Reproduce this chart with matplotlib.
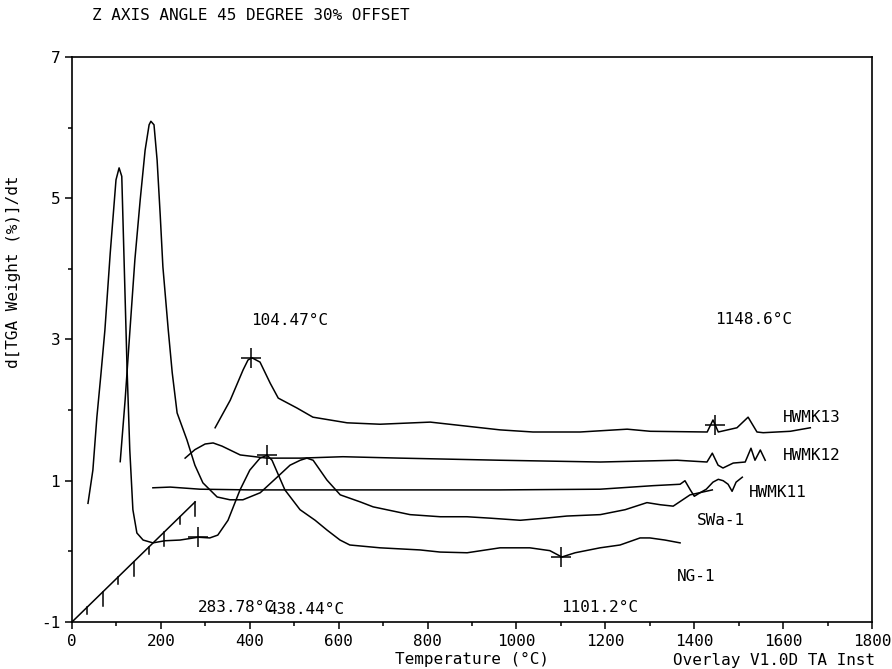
import numpy as np
import matplotlib
matplotlib.use("Agg")
import matplotlib.pyplot as plt

# DTG curves, own (un-offset) coordinates: temperature (C), d[weight %]/dt
ng1_t = [36, 47, 56, 65, 74, 86, 99, 106, 112, 124, 130, 137, 146, 160, 182, 209, 243, 284,
         310, 328, 351, 378, 400, 423, 439, 450, 479, 513, 547, 574, 603, 625, 693, 783, 828,
         889, 963, 1030, 1075, 1102, 1132, 1188, 1233, 1278, 1300, 1334, 1368]
ng1_y = [0.68, 1.15, 1.90, 2.50, 3.13, 4.22, 5.26, 5.43, 5.31, 2.57, 1.44, 0.59, 0.26, 0.16,
         0.12, 0.15, 0.16, 0.20, 0.19, 0.23, 0.44, 0.87, 1.15, 1.32, 1.36, 1.29, 0.87, 0.59,
         0.44, 0.30, 0.16, 0.09, 0.05, 0.02, -0.01, -0.02, 0.05, 0.05, 0.01, -0.08, -0.02, 0.05,
         0.09, 0.19, 0.19, 0.16, 0.12]

swa1_t = [34, 45, 56, 67, 79, 90, 99, 103, 110, 117, 124, 130, 142, 151, 162, 184, 202, 220,
          252, 281, 310, 349, 387, 416, 439, 454, 468, 499, 529, 574, 603, 686, 754, 814, 866,
          934, 990, 1039, 1114, 1170, 1219, 1249, 1278, 1316, 1366]
swa1_y = [0.80, 1.67, 2.67, 3.66, 4.51, 5.21, 5.57, 5.62, 5.57, 5.07, 4.29, 3.56, 2.67, 2.06,
          1.49, 1.11, 0.75, 0.50, 0.30, 0.26, 0.26, 0.36, 0.58, 0.75, 0.82, 0.85, 0.82, 0.54,
          0.33, 0.23, 0.16, 0.05, 0.02, 0.02, 0.00, -0.03, 0.00, 0.03, 0.05, 0.12, 0.22, 0.19,
          0.17, 0.33, 0.40]

hwmk11_t = [33, 72, 139, 252, 364, 589, 814, 1039, 1158, 1219, 1230, 1242, 1251, 1264, 1278,
            1293, 1305, 1316, 1327, 1336, 1345, 1359]
hwmk11_y = [-0.04, -0.03, -0.06, -0.07, -0.07, -0.07, -0.07, -0.06, -0.01, 0.01, 0.06, -0.07,
            -0.16, -0.11, -0.06, 0.04, 0.08, 0.06, 0.01, -0.09, 0.04, 0.11]

hwmk12_t = [31, 53, 76, 94, 114, 155, 215, 290, 386, 515, 740, 965, 1138, 1205, 1217, 1230,
            1241, 1264, 1291, 1304, 1313, 1325, 1336]
hwmk12_y = [-0.09, 0.03, 0.11, 0.125, 0.08, -0.045, -0.09, -0.09, -0.07, -0.09, -0.12, -0.145,
            -0.12, -0.145, -0.02, -0.19, -0.23, -0.16, -0.145, 0.05, -0.12, 0.025, -0.12]

hwmk13_t = [24, 58, 87, 98, 107, 125, 148, 166, 208, 244, 321, 395, 508, 665, 739, 845, 951,
            1003, 1131, 1144, 1156, 1198, 1223, 1243, 1257, 1318, 1363]
hwmk13_y = [-0.13, 0.26, 0.69, 0.83, 0.86, 0.80, 0.50, 0.29, 0.15, 0.02, -0.06, -0.08, -0.05,
            -0.16, -0.19, -0.19, -0.15, -0.18, -0.19, -0.02, -0.19, -0.13, 0.02, -0.19, -0.20,
            -0.18, -0.13]

curves = [(ng1_t, ng1_y), (swa1_t, swa1_y), (hwmk11_t, hwmk11_y),
          (hwmk12_t, hwmk12_y), (hwmk13_t, hwmk13_y)]
names = ["NG-1", "SWa-1", "HWMK11", "HWMK12", "HWMK13"]
name_pos = [(1361, -0.36), (1406, 0.43), (1523, 0.84), (1600, 1.36), (1600, 1.89)]

# marked peaks: (curve index, temperature, label y)
peaks = [(0, 283.78, -0.79), (0, 438.44, -0.83), (0, 1101.2, -0.79),
         (4, 104.47, 3.27), (4, 1148.6, 3.28)]

# 45 degree z axis, 30% offset per curve
dx, dy = 74.5, 0.47

plt.rcParams['font.family'] = ['DejaVu Sans Mono']
plt.rcParams['font.size'] = 11.5

fig = plt.figure(figsize=(8.92, 6.69), dpi=100)
ax = fig.add_axes([0.0807, 0.0703, 0.897, 0.8445])

for k, (t, y) in enumerate(curves):
    ax.plot(np.array(t) + k * dx, np.array(y) + k * dy, color="black", lw=1.1)
    ax.text(name_pos[k][0], name_pos[k][1], names[k], ha="left", va="center")

for k, tp, ly in peaks:
    t, y = curves[k]
    yp = np.interp(tp, t, y)
    ax.plot(tp + k * dx, yp + k * dy, marker="+", ms=15, mew=1.1, color="black")
    ax.text(tp + k * dx, ly, "%s°C" % tp, ha="left", va="center")

# z axis with its ticks
zx, zy = 277, 0.70
ax.plot([0, zx], [-1, zy], color="black", lw=1.1, clip_on=False)
for i in range(1, 9):
    f = i / 8
    ln = 0.2 if i % 2 == 0 else 0.1
    ax.plot([f * zx, f * zx], [-1 + f * (zy + 1), -1 + f * (zy + 1) - ln], color="black", lw=1.1)

ax.set_xlim(0, 1800)
ax.set_ylim(-1, 7)
ax.set_xticks(range(0, 1801, 200))
ax.set_xticks(range(100, 1800, 200), minor=True)
ax.set_yticks([-1, 1, 3, 5, 7])
ax.set_yticklabels(["-1", "1", "3", "5", "7"])
ax.set_yticks([0, 2, 4, 6], minor=True)
ax.tick_params(which="major", length=5, width=1.1, direction="out")
ax.tick_params(which="minor", length=3, width=1.1, direction="out")
for s in ax.spines.values():
    s.set_linewidth(1.2)

ax.set_xlabel("Temperature (°C)", labelpad=2)
ax.set_ylabel("d[TGA Weight (%)]/dt")
ax.yaxis.set_label_coords(-0.064, 0.62)
fig.text(0.103, 0.977, "Z AXIS ANGLE 45 DEGREE 30% OFFSET", ha="left", va="center")
fig.text(0.981, 0.013, "Overlay V1.0D TA Inst", ha="right", va="center")

fig.savefig("out.png", dpi=100)
